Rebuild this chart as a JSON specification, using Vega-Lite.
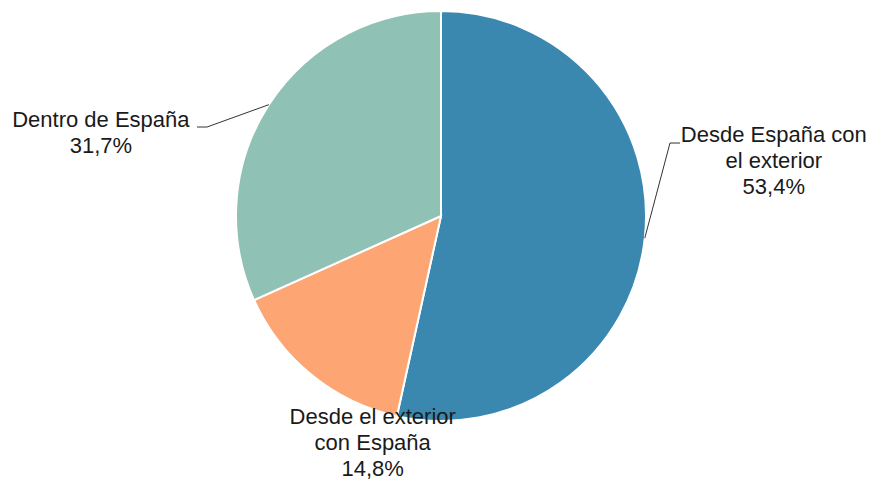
{
  "$schema": "https://vega.github.io/schema/vega-lite/v6.json",
  "autosize": {"type": "none"},
  "width": 862,
  "height": 422,
  "padding": {"left": 10, "right": 0, "top": 5, "bottom": 52},
  "background": "white",
  "config": {"view": {"stroke": null}},
  "datasets": {
    "slices": [
      {"cat": "Desde España con el exterior", "value": 53.4, "orden": 1, "label": "Desde España con\nel exterior\n53,4%"},
      {"cat": "Desde el exterior con España", "value": 14.8, "orden": 2, "label": "Desde el exterior\ncon España\n14,8%"},
      {"cat": "Dentro de España", "value": 31.7, "orden": 3, "label": "Dentro de España\n31,7%"}
    ],
    "leaders": [
      {"grp": "a", "k": 1, "x": 0.994, "y": -0.108},
      {"grp": "a", "k": 2, "x": 1.117, "y": 0.356},
      {"grp": "a", "k": 3, "x": 1.166, "y": 0.356},
      {"grp": "b", "k": 1, "x": -0.8395, "y": 0.5432},
      {"grp": "b", "k": 2, "x": -1.1415, "y": 0.434},
      {"grp": "b", "k": 3, "x": -1.19, "y": 0.434}
    ]
  },
  "layer": [
    {
      "data": {"name": "slices"},
      "mark": {"type": "arc", "outerRadius": 205, "stroke": "white", "strokeWidth": 2},
      "encoding": {
        "theta": {"field": "value", "type": "quantitative", "stack": true},
        "order": {"field": "orden", "type": "quantitative"},
        "color": {
          "field": "cat",
          "type": "nominal",
          "scale": {
            "domain": ["Desde España con el exterior", "Desde el exterior con España", "Dentro de España"],
            "range": ["#3a88b0", "#fda674", "#8fc1b4"]
          },
          "legend": null
        }
      }
    },
    {
      "data": {"name": "slices"},
      "mark": {"type": "text", "font": "Liberation Sans", "fontSize": 22, "lineHeight": 26, "lineBreak": "\n", "align": "center", "baseline": "middle", "color": "#1a1a1a", "dx": 129, "dy": -103},
      "encoding": {
        "theta": {"field": "value", "type": "quantitative", "stack": true},
        "order": {"field": "orden", "type": "quantitative"},
        "radius": {"value": 205},
        "text": {"condition": {"test": "datum.cat === 'Desde España con el exterior'", "field": "label"}, "value": ""}
      }
    },
    {
      "data": {"name": "slices"},
      "mark": {"type": "text", "font": "Liberation Sans", "fontSize": 22, "lineHeight": 26, "lineBreak": "\n", "align": "center", "baseline": "middle", "color": "#1a1a1a", "dx": 61, "dy": 42},
      "encoding": {
        "theta": {"field": "value", "type": "quantitative", "stack": true},
        "order": {"field": "orden", "type": "quantitative"},
        "radius": {"value": 205},
        "text": {"condition": {"test": "datum.cat === 'Desde el exterior con España'", "field": "label"}, "value": ""}
      }
    },
    {
      "data": {"name": "slices"},
      "mark": {"type": "text", "font": "Liberation Sans", "fontSize": 22, "lineHeight": 26, "lineBreak": "\n", "align": "center", "baseline": "middle", "color": "#1a1a1a", "dx": -168, "dy": 15},
      "encoding": {
        "theta": {"field": "value", "type": "quantitative", "stack": true},
        "order": {"field": "orden", "type": "quantitative"},
        "radius": {"value": 205},
        "text": {"condition": {"test": "datum.cat === 'Dentro de España'", "field": "label"}, "value": ""}
      }
    },
    {
      "data": {"name": "leaders"},
      "mark": {"type": "line", "color": "#333333", "strokeWidth": 1},
      "encoding": {
        "x": {"field": "x", "type": "quantitative", "axis": null, "scale": {"domain": [-2.10244, 2.10244], "nice": false, "zero": false}},
        "y": {"field": "y", "type": "quantitative", "axis": null, "scale": {"domain": [-1.02927, 1.02927], "nice": false, "zero": false}},
        "detail": {"field": "grp", "type": "nominal"},
        "order": {"field": "k", "type": "quantitative"}
      }
    }
  ]
}
